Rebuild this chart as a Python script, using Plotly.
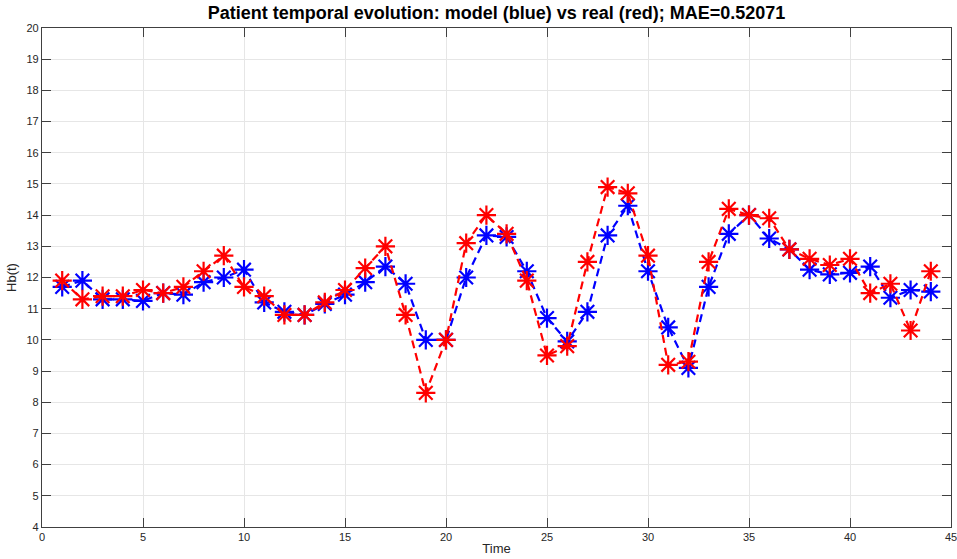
import plotly.graph_objects as go

time = list(range(1, 45))
model_hb = [11.7, 11.9, 11.3, 11.3, 11.25, 11.5, 11.45, 11.85, 12.0, 12.25,
            11.2, 10.9, 10.8, 11.15, 11.45, 11.85, 12.35, 11.8, 10.0, 10.0,
            12.0, 13.35, 13.3, 12.2, 10.7, 9.95, 10.9, 13.35, 14.3, 12.2,
            10.4, 9.1, 11.7, 13.4, 14.0, 13.25, 12.9, 12.25, 12.1, 12.15,
            12.35, 11.35, 11.6, 11.55]
real_hb = [11.9, 11.3, 11.4, 11.4, 11.6, 11.5, 11.7, 12.2, 12.7, 11.7,
           11.4, 10.8, 10.8, 11.2, 11.6, 12.3, 13.0, 10.8, 8.3, 10.0,
           13.1, 14.0, 13.4, 11.9, 9.5, 9.8, 12.5, 14.9, 14.7, 12.7,
           9.2, 9.3, 12.5, 14.2, 14.0, 13.9, 12.9, 12.6, 12.4, 12.6,
           11.5, 11.8, 10.3, 12.2]
x_ticks = [0, 5, 10, 15, 20, 25, 30, 35, 40, 45]
y_ticks = list(range(4, 21))
title_text = "Patient temporal evolution: model (blue) vs real (red); MAE=0.52071"

FONT = "Liberation Sans, Arial, sans-serif"

fig = go.Figure()
fig.add_trace(go.Scatter(
    x=time, y=model_hb, mode="lines+markers", name="model",
    line=dict(color="#0000ff", width=2.2, dash="8px,5px"),
    marker=dict(symbol="asterisk-open", size=16, line=dict(color="#0000ff", width=2.2)),
))
fig.add_trace(go.Scatter(
    x=time, y=real_hb, mode="lines+markers", name="real",
    line=dict(color="#ff0000", width=2.2, dash="8px,5px"),
    marker=dict(symbol="asterisk-open", size=16, line=dict(color="#ff0000", width=2.2)),
))

axis_common = dict(
    showline=True, mirror="ticks", linecolor="#404040", linewidth=1.3,
    ticks="inside", ticklen=9, tickcolor="#404040", tickwidth=1.3,
    showgrid=True, gridcolor="#e6e6e6", gridwidth=1, zeroline=False,
    ticklabeloverflow="allow", automargin=False,
    tickfont=dict(family=FONT, size=11, color="#262626"),
)

fig.update_layout(
    width=957, height=559,
    margin=dict(l=42, r=6, t=28, b=32, autoexpand=False),
    plot_bgcolor="white", paper_bgcolor="white",
    showlegend=False,
    title=dict(text="<b>" + title_text + "</b>", x=0.5, xanchor="center",
               xref="paper", y=1 - 13 / 559, yanchor="middle",
               font=dict(family=FONT, size=18, color="#000000")),
    xaxis=dict(range=[0, 45], tickvals=x_ticks, **axis_common,
               title=dict(text="Time", standoff=1,
                          font=dict(family=FONT, size=13, color="#262626"))),
    yaxis=dict(range=[4, 20], tickvals=y_ticks, **axis_common,
               title=dict(text="Hb(t)", standoff=6,
                          font=dict(family=FONT, size=13, color="#262626"))),
)

fig.write_html("out.html")
